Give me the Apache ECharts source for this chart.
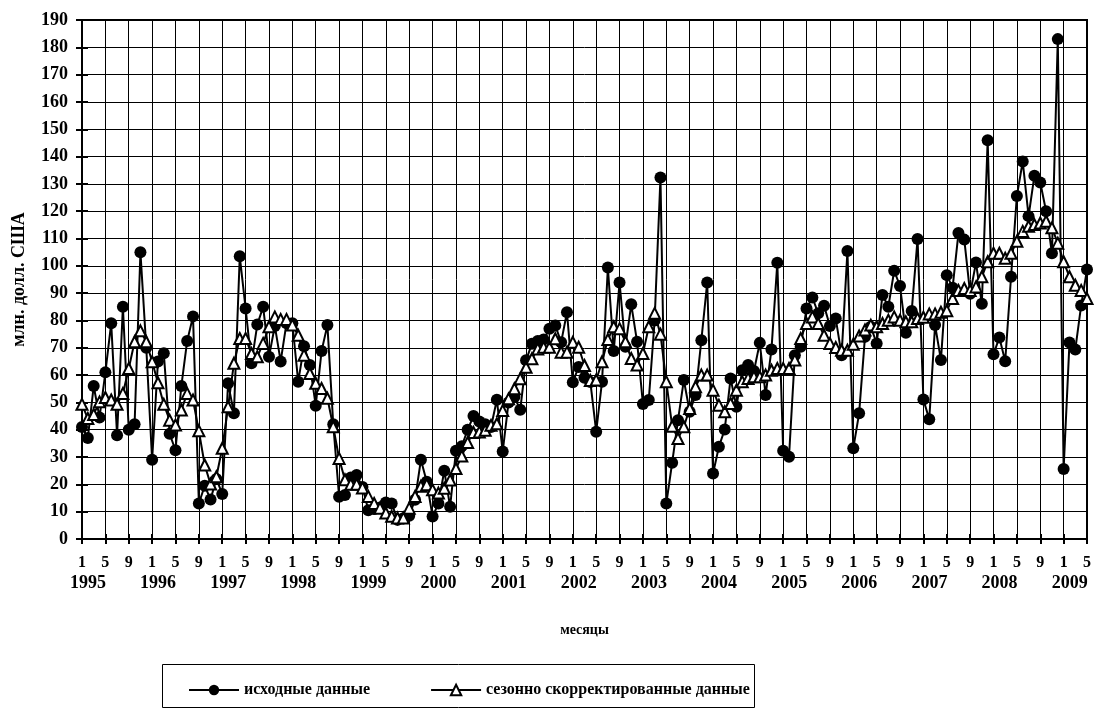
<!DOCTYPE html>
<html>
<head>
<meta charset="utf-8">
<script src="https://cdn.jsdelivr.net/npm/echarts@6/dist/echarts.min.js"></script>
<style>
  html, body { margin: 0; padding: 0; background: #ffffff; }
  #chart { width: 1099px; height: 709px; }
</style>
</head>
<body>
<div id="chart"></div>
<script>
// годы и месяцы (янв 1995 - май 2009)
const years = [1995, 1996, 1997, 1998, 1999, 2000, 2001, 2002, 2003, 2004, 2005, 2006, 2007, 2008, 2009]
const lastMonth = 5

// исходные данные, млн. долл. США
const rawData = [
  41, 37, 56, 44.5, 61, 79, 38, 85, 40, 42, 105, 70,
  29, 65, 68, 38.5, 32.5, 56, 72.5, 81.5, 13, 19.5, 14.5, 22,
  16.5, 57, 46, 103.5, 84.4, 64.3, 78.5, 85, 66.7, 78, 65, 79,
  79, 57.6, 70.6, 63.7, 48.8, 68.8, 78.3, 42, 15.5, 16.1, 22.5, 23.4,
  19, 10.5, 11, 11.5, 13.4, 13, 7, 7.6, 8.5, 14.4, 29, 21,
  8.2, 13, 25, 11.8, 32.3, 34, 40, 45, 43, 42, 41, 51,
  32, 50, 52, 47.3, 65.4, 71.5, 72.5, 73, 77, 78.2, 72, 83,
  57.4, 63, 59, 57.5, 39.3, 57.6, 99.4, 68.8, 93.9, 70.4, 85.9, 72.2,
  49.4, 50.9, 80, 132.3, 13, 27.9, 43.5, 58.2, 46.6, 52.7, 72.8, 93.9,
  24, 33.8, 40.1, 58.8, 48.4, 61.8, 63.7, 61.5, 71.8, 52.7, 69.4, 101.1,
  32.3, 30.1, 67.3, 70.4, 84.4, 88.4, 82.6, 85.4, 78, 80.7, 67.3, 105.4,
  33.2, 46, 74, 77.7, 71.6, 89.3, 85, 98.2, 92.6, 75.5, 83.5, 109.8,
  51.1, 43.8, 78.3, 65.5, 96.6, 92, 112, 109.6, 89.8, 101.2, 86.1, 146,
  67.6, 73.8, 65.1, 96, 125.6, 138.2, 118.2, 133, 130.5, 120, 104.6, 183,
  25.6, 71.9, 69.4, 85.5, 98.7
]

// сезонно скорректированные данные
const seasonalData = [
  49.3, 44.1, 45.6, 50.2, 51.8, 50.9, 49.3, 53.3, 62.4, 72.2, 76.2, 72.2,
  64.9, 57.2, 49.3, 43.5, 41.7, 47.2, 53.3, 50.9, 39.6, 27.1, 20.1, 22.8,
  33.2, 48.4, 64.3, 73.4, 73.4, 67.9, 66.7, 71.6, 77.7, 81.3, 80.4, 80.4,
  78.3, 74.6, 67.3, 60.6, 57, 55.1, 51.5, 41.1, 29.5, 21.7, 20, 20,
  18.7, 15.6, 13, 11.3, 9.5, 8.3, 7.7, 7.7, 11.3, 15.6, 19.3, 19.9,
  18, 16.8, 18.6, 21.6, 25.8, 30.4, 35.3, 39, 39.2, 39.8, 41.6, 42.2,
  47, 51.3, 55, 58.7, 62.9, 66, 69.6, 70.2, 70.2, 73.3, 68.4, 68.4,
  72, 70.2, 63.5, 58, 58.2, 64.9, 73, 77.7, 77, 72.2, 66.1, 63.7,
  67.9, 77.7, 82.6, 75, 57.6, 41.3, 36.8, 41.1, 47.8, 55.7, 60, 60,
  54.5, 49, 46.6, 49.6, 54.5, 57.6, 58.8, 59.4, 59.4, 60, 61.8, 62.4,
  62.4, 62.4, 65.5, 73.4, 78.9, 81.3, 78.9, 74.6, 71.6, 70.1, 69.1, 69.1,
  71.3, 74.3, 76.5, 78.3, 77.7, 78.9, 80.1, 81.3, 80.1, 79.5, 79.5, 80.7,
  81.2, 82.4, 82.4, 83, 83.6, 88, 91, 91.7, 91, 92.3, 96, 101.5,
  104.6, 104.6, 102.8, 104.6, 109, 112.6, 114.5, 115.1, 115.7, 116.3, 113.9, 108.3,
  101.5, 96, 92.9, 91, 88
]

// подписи категорий: "год-месяц"
const categories = []
years.forEach((y, k) => {
  const n = k === years.length - 1 ? lastMonth : 12
  for (let m = 1; m <= n; m++) categories.push(y + '-' + m)
})

const serif = 'Liberation Serif, Times New Roman, serif'

const chart = echarts.init(document.getElementById('chart'))
chart.setOption({
  animation: false,
  backgroundColor: '#ffffff',
  textStyle: { fontFamily: serif, color: '#000' },
  grid: {
    left: 82,
    right: 12,
    top: 20,
    bottom: 170,
    show: true,
    borderColor: '#000',
    borderWidth: 2
  },
  legend: {
    left: 183,
    top: 677,
    itemWidth: 50,
    itemHeight: 13,
    itemGap: 60,
    textStyle: { fontFamily: serif, fontWeight: 'bold', fontSize: 16, color: '#000' },
    data: ['исходные данные', 'сезонно скорректированные данные']
  },
  graphic: [
    {
      type: 'rect',
      shape: { x: 162.5, y: 664.5, width: 592, height: 43 },
      style: { fill: 'none', stroke: '#000', lineWidth: 1 }
    }
  ],
  xAxis: [
    {
      // месяцы: 1, 5, 9
      type: 'category',
      data: categories,
      boundaryGap: false,
      position: 'bottom',
      name: 'месяцы',
      nameLocation: 'middle',
      nameGap: 84,
      nameTextStyle: { fontFamily: serif, fontWeight: 'bold', fontSize: 14, color: '#000' },
      axisLine: { lineStyle: { color: '#000', width: 2 } },
      axisTick: { interval: 3, length: 5, lineStyle: { color: '#000', width: 2 } },
      splitLine: { show: true, interval: 3, lineStyle: { color: '#000', width: 1 } },
      axisLabel: {
        interval: 3,
        margin: 16,
        showMinLabel: true,
        showMaxLabel: true,
        fontFamily: serif,
        fontWeight: 'bold',
        fontSize: 16,
        color: '#000',
        formatter: (v) => v.split('-')[1]
      }
    },
    {
      // годы + внутренние засечки (крестом)
      type: 'category',
      data: categories,
      boundaryGap: false,
      position: 'bottom',
      axisLine: { show: false },
      axisTick: { interval: 3, inside: true, length: 5, lineStyle: { color: '#000', width: 2 } },
      splitLine: { show: false },
      axisLabel: {
        interval: (idx) => idx % 12 === 0,
        margin: 35,
        showMinLabel: true,
        fontFamily: serif,
        fontWeight: 'bold',
        fontSize: 18,
        color: '#000',
        padding: [0, 0, 0, 12],
        formatter: (v) => v.split('-')[0]
      }
    }
  ],
  yAxis: [
    {
      type: 'value',
      min: 0,
      max: 190,
      interval: 10,
      name: 'млн. долл. США',
      nameLocation: 'middle',
      nameGap: 54,
      nameTextStyle: { fontFamily: serif, fontWeight: 'bold', fontSize: 18, color: '#000' },
      axisLine: { show: true, lineStyle: { color: '#000', width: 2 } },
      axisTick: { show: true, length: 6, lineStyle: { color: '#000', width: 2 } },
      splitLine: { show: true, lineStyle: { color: '#000', width: 1 } },
      axisLabel: { margin: 14, fontFamily: serif, fontWeight: 'bold', fontSize: 18, color: '#000' }
    },
    {
      type: 'value',
      min: 0,
      max: 190,
      interval: 10,
      position: 'left',
      axisLine: { show: false },
      axisTick: { show: true, inside: true, length: 6, lineStyle: { color: '#000', width: 2 } },
      axisLabel: { show: false },
      splitLine: { show: false }
    }
  ],
  series: [
    {
      name: 'исходные данные',
      type: 'line',
      data: rawData,
      symbol: 'circle',
      symbolSize: 12,
      showAllSymbol: true,
      itemStyle: { color: '#000' },
      lineStyle: { color: '#000', width: 2 },
      emphasis: { disabled: true }
    },
    {
      name: 'сезонно скорректированные данные',
      type: 'line',
      data: seasonalData,
      symbol: 'triangle',
      symbolSize: 11,
      showAllSymbol: true,
      itemStyle: { color: '#fff', borderColor: '#000', borderWidth: 2 },
      lineStyle: { color: '#000', width: 2 },
      emphasis: { disabled: true }
    }
  ]
})
</script>
</body>
</html>
